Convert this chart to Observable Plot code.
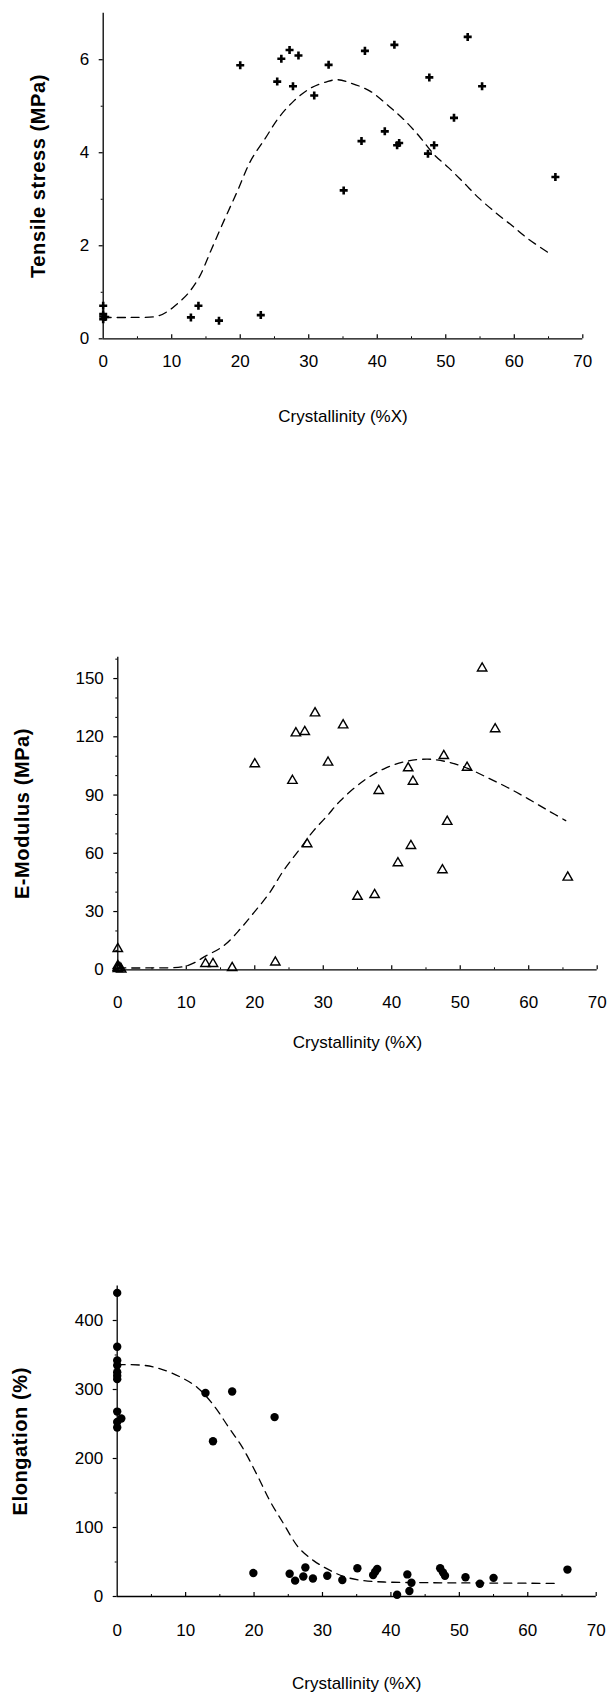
<!DOCTYPE html>
<html>
<head>
<meta charset="utf-8">
<script src="https://cdn.jsdelivr.net/npm/d3@7"></script>
<script src="https://cdn.jsdelivr.net/npm/@observablehq/plot@0.6"></script>
<style>
html, body { margin: 0; padding: 0; background: #fff; }
#chart { width: 607px; }
#chart svg { display: block; }
</style>
</head>
<body>
<div id="chart"></div>
<script>
// ---------- shared axis ----------
const xTitle = "Crystallinity (%X)";
const crystTicks = [0, 10, 20, 30, 40, 50, 60, 70];
const crystMinor = [5, 15, 25, 35, 45, 55, 65];

// ---------- panel 1: tensile stress ----------
const tensileTitle = "Tensile stress (MPa)";
const tensileTicks = [0, 2, 4, 6];
const tensileMinor = [1, 3, 5];
const tensileX = [0, 0, 0, 0, 0.3, 12.8, 13.9, 16.9, 23.0, 20.0, 25.4, 26.0, 27.2, 28.5, 27.7, 30.8, 32.9,
  35.1, 37.7, 38.2, 41.1, 42.5, 42.9, 43.2, 47.6, 47.4, 48.3, 51.2, 53.2, 55.3, 66.0];
const tensileY = [0.71, 0.42, 0.48, 0.53, 0.47, 0.46, 0.71, 0.39, 0.51, 5.88, 5.53, 6.02, 6.21, 6.09, 5.43, 5.23, 5.89,
  3.19, 4.25, 6.19, 4.46, 6.32, 4.16, 4.21, 5.62, 3.98, 4.16, 4.75, 6.49, 5.43, 3.48];
const tensileCurveX = [0, 4, 8, 9.6, 10.8, 12.3, 14, 15.7, 17.6, 19.6, 21.5, 23.7, 25.6, 27.8, 30.3, 32.7, 34.2,
  36.1, 39.0, 41.7, 43.9, 46.1, 48.3, 50.4, 52.6, 54.8, 57.3, 59.7, 62.1, 65.3];
const tensileCurveY = [0.46, 0.46, 0.49, 0.61, 0.75, 0.96, 1.32, 1.89, 2.53, 3.18, 3.82, 4.32, 4.75, 5.11, 5.39, 5.53, 5.57,
  5.5, 5.32, 5.0, 4.71, 4.36, 3.96, 3.68, 3.36, 3.03, 2.71, 2.43, 2.14, 1.82];

// ---------- panel 2: E-modulus ----------
const modulusTitle = "E-Modulus (MPa)";
const modulusTicks = [0, 30, 60, 90, 120, 150];
const modulusMinor = [10, 20, 40, 50, 70, 80, 100, 110, 130, 140, 160];
const modulusX = [0, 0, 0, 0, 0.3, 0.5, 12.8, 13.9, 16.7, 23.0, 20.0, 25.5, 26.0, 27.3, 28.8, 27.65, 30.7, 32.9,
  35.0, 37.5, 38.1, 40.9, 42.4, 42.8, 43.1, 47.4, 47.6, 48.1, 51.0, 53.2, 55.1, 65.7];
const modulusY = [10.8, 0.5, 1.2, 2, 1, 0.3, 3.1, 3.1, 1.0, 3.9, 106, 97.4, 121.9, 122.6, 132.2, 64.8, 106.8, 126,
  37.7, 38.6, 92.2, 55, 103.9, 63.9, 97, 51.4, 110.2, 76.3, 104.2, 155.3, 124, 47.6];
const modulusCurveX = [0, 5, 10, 13.0, 15.5, 17.9, 19.9, 22.05, 24.2, 26.4, 28.6, 30.6, 32.5, 35.9, 38.8, 41.8,
  45.2, 48.1, 51.0, 53.9, 56.9, 59.8, 62.7, 65.4];
const modulusCurveY = [1, 1, 2, 7.4, 12.5, 21.1, 29.6, 39.1, 51.1, 61.4, 71.7, 79.4, 87.1, 97.4, 103.4, 107.1,
  108.5, 107.1, 103.9, 99.1, 93.9, 88.3, 82.3, 76.8];

// ---------- panel 3: elongation ----------
const elongTitle = "Elongation (%)";
const elongTicks = [0, 100, 200, 300, 400];
const elongMinor = [50, 150, 250, 350];
const elongX = [0, 0, 0, 0, 0, 0, 0, 0, 0, 0, 0.6, 12.9, 14.0, 16.8, 23.0, 19.9, 25.2, 26.0, 27.5, 27.2, 28.6, 30.7, 32.9,
  35.1, 37.4, 37.7, 38.0, 40.9, 42.4, 43.0, 42.7, 47.2, 47.6, 47.9, 50.9, 53.0, 55.0, 65.8];
const elongY = [440, 362, 342, 335, 325, 315, 268, 253, 245, 320, 258, 295, 225, 297, 260, 34, 33, 23, 42, 29, 26, 30, 24,
  41, 31, 36, 40, 2.5, 32, 20, 8, 41, 35, 30, 28, 18.5, 27, 39];
const elongCurveX = [0, 3.9, 6.3, 9.25, 11.7, 14.1, 16.3, 18.3, 20.5, 22.4, 24.35, 26.5, 28.7, 30.7, 33.1, 36.0, 39.0,
  45.8, 55, 64.3];
const elongCurveY = [336, 335, 330, 318, 303, 277, 245, 216, 175, 137, 105, 71, 52, 40, 29, 23, 21,
  20, 19.5, 19];

const FONT = "'Liberation Sans', Arial, Helvetica, sans-serif";

function panel(cfg) {
  const pts = cfg.x.map((x, i) => ({x, y: cfg.y[i]}));
  const curve = cfg.cx.map((x, i) => ({x, y: cfg.cy[i]}));
  const svg = Plot.plot({
    width: 607,
    height: cfg.height,
    marginTop: cfg.mt,
    marginBottom: cfg.mb,
    marginLeft: cfg.ml,
    marginRight: cfg.mr,
    style: {fontFamily: FONT, color: "black", background: "white", overflow: "visible"},
    x: {domain: [0, 70]},
    y: {domain: [0, cfg.ymax]},
    marks: [
      Plot.ruleY([0], {x1: 0, x2: 70, strokeWidth: 1.3}),
      Plot.ruleX([0], {y1: 0, y2: cfg.ymax, strokeWidth: 1.3}),
      Plot.ruleX(crystTicks.slice(1), {x: d => d, y1: 0, y2: 0, insetTop: -4, strokeWidth: 1.2}),
      Plot.ruleX(crystMinor, {x: d => d, y1: 0, y2: 0, insetTop: -2, strokeWidth: 1}),
      Plot.ruleY(cfg.ticks, {y: d => d, x1: 0, x2: 0, insetLeft: -4, strokeWidth: 1.2}),
      Plot.ruleY(cfg.minor, {y: d => d, x1: 0, x2: 0, insetLeft: -2, strokeWidth: 1}),
      Plot.axisX({ticks: crystTicks, tickSize: 0, tickPadding: cfg.xPad, fontSize: 17, label: null, tickFormat: d => String(d)}),
      Plot.axisY({ticks: cfg.ticks, tickSize: 0, tickPadding: 14, fontSize: 17, label: null, tickFormat: d => String(d)}),
      Plot.line(curve, {x: "x", y: "y", curve: "catmull-rom", stroke: "black", strokeWidth: 1.3, strokeDasharray: "8,6"}),
      cfg.dots(pts),
      Plot.text([xTitle], {text: d => d, frameAnchor: "bottom", textAnchor: "middle", lineAnchor: "middle",
        dy: cfg.titleDy, fontSize: 17}),
      Plot.text([cfg.title], {text: d => d, frameAnchor: "left", textAnchor: "middle", lineAnchor: "middle",
        dx: cfg.yTitleDx, rotate: -90, fontSize: 20, fontWeight: "bold"})
    ]
  });
  d3.select(svg).selectAll("text").filter(function () { return this.textContent === cfg.title; })
    .attr("letter-spacing", "0.6px");
  return svg;
}

const chart = document.getElementById("chart");

chart.appendChild(panel({
  height: 470, mt: 12.7, mb: 131.7, ml: 102.7, mr: 24.7, ymax: 7,
  ticks: tensileTicks, minor: tensileMinor, xPad: 16, titleDy: 78, yTitleDx: -65,
  title: tensileTitle,
  x: tensileX, y: tensileY, cx: tensileCurveX, cy: tensileCurveY,
  dots: pts => Plot.dot(pts, {x: "x", y: "y", symbol: "plus", r: 2.7, stroke: "black", strokeWidth: 2.6})
}));

chart.appendChild(panel({
  height: 660, mt: 186.7, mb: 160.7, ml: 117.3, mr: 10.3, ymax: 161,
  ticks: modulusTicks, minor: modulusMinor, xPad: 26, titleDy: 73, yTitleDx: -95,
  title: modulusTitle,
  x: modulusX, y: modulusY, cx: modulusCurveX, cy: modulusCurveY,
  dots: pts => Plot.dot(pts, {x: "x", y: "y", symbol: "triangle2", r: 4.5, stroke: "black", fill: "none", strokeWidth: 1.4})
}));

chart.appendChild(panel({
  height: 564, mt: 155.5, mb: 98, ml: 116.7, mr: 11.3, ymax: 450,
  ticks: elongTicks, minor: elongMinor, xPad: 27, titleDy: 87, yTitleDx: -97,
  title: elongTitle,
  x: elongX, y: elongY, cx: elongCurveX, cy: elongCurveY,
  dots: pts => Plot.dot(pts, {x: "x", y: "y", r: 4.2, fill: "black", stroke: "none"})
}));
</script>
</body>
</html>
